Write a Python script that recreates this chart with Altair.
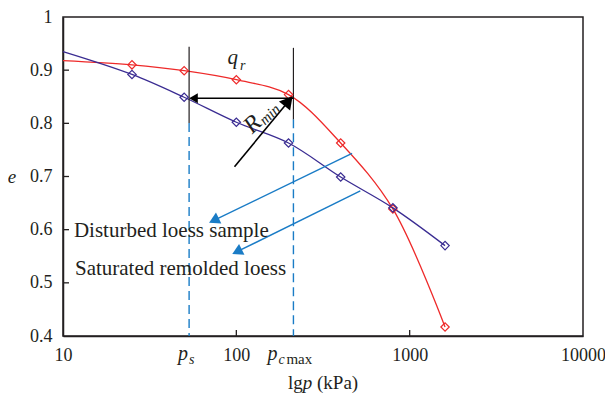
import altair as alt
import pandas as pd

# ---------------- data ----------------
P = [25, 50, 100, 200, 400, 800, 1600]
E_DISTURBED = [0.910, 0.899, 0.882, 0.854, 0.763, 0.639, 0.417]   # red
E_REMOLDED = [0.892, 0.849, 0.802, 0.763, 0.699, 0.641, 0.570]    # blue
CURVE_START_P = 10
E_DISTURBED_START = 0.918
E_REMOLDED_START = 0.935

X_TICKS = [10, 100, 1000, 10000]
Y_TICKS = [0.4, 0.5, 0.6, 0.7, 0.8, 0.9, 1.0]
X_INNER_TICKS = [100, 1000]
Y_INNER_TICKS = [0.5, 0.6, 0.7, 0.8, 0.9]

P_S = 53.4
P_CMAX = 213.5
# black vertical markers (top, bottom) and dashed guides
VLINE_P = [P_S, P_CMAX]
VLINE_TOP = [0.944, 0.942]
VLINE_BOTTOM = [0.8006, 0.8075]
DASH_BOTTOM = [0.4, 0.4]

# horizontal arrow between p_s and p_cmax
HARROW_E = 0.8473
HARROW_HEAD_P = 56.6
# R_min arrow
RARROW_P = [97.6, 200.1]
RARROW_E = [0.7183, 0.8417]
# blue pointer arrows
BARROW1_P = [465.3, 74.2]
BARROW1_E = [0.7434, 0.6174]
BARROW2_P = [519.0, 100.9]
BARROW2_E = [0.6729, 0.5585]

RED = "#ee2a2a"
BLUE = "#3a2c92"
LIGHT = "#1a7cc6"
INK = "#231f20"
FONT = "Liberation Serif"

W, H = 520, 319

xs = alt.Scale(type="log", domain=[10, 10000])
ys = alt.Scale(domain=[0.4, 1.0])

red_line_df = pd.DataFrame({"p": [CURVE_START_P] + P, "e": [E_DISTURBED_START] + E_DISTURBED})
blue_line_df = pd.DataFrame({"p": [CURVE_START_P] + P, "e": [E_REMOLDED_START] + E_REMOLDED})
red_pts = pd.DataFrame({"p": P, "e": E_DISTURBED})
blue_pts = pd.DataFrame({"p": P, "e": E_REMOLDED})

axis_x = alt.Axis(values=X_TICKS, format="d", title=None, ticks=False, grid=False,
                  labelFlush=False, labelFontSize=18, labelFont=FONT, labelColor=INK,
                  labelPadding=10, domainColor=INK, domainWidth=1.5)
axis_y = alt.Axis(values=Y_TICKS, format=".1~f", title=None, ticks=False, grid=False,
                  labelFontSize=18, labelFont=FONT, labelColor=INK,
                  labelPadding=11, domainColor=INK, domainWidth=1.5)

def X(field="p:Q"):
    return alt.X(field, scale=xs, axis=axis_x)

def Y(field="e:Q"):
    return alt.Y(field, scale=ys, axis=axis_y)

red_line = alt.Chart(red_line_df).mark_line(color=RED, strokeWidth=1.3, interpolate="catmull-rom").encode(x=X(), y=Y())
blue_line = alt.Chart(blue_line_df).mark_line(color=BLUE, strokeWidth=1.3, interpolate="catmull-rom").encode(x=X(), y=Y())
red_mk = alt.Chart(red_pts).mark_point(shape="diamond", filled=False, color=RED, size=70, strokeWidth=1.2, opacity=1).encode(x=X(), y=Y())
blue_mk = alt.Chart(blue_pts).mark_point(shape="diamond", filled=False, color=BLUE, size=70, strokeWidth=1.2, opacity=1).encode(x=X(), y=Y())

# inward ticks
xt = alt.Chart(pd.DataFrame({"p": X_INNER_TICKS})).mark_rule(color=INK, strokeWidth=1.3).encode(
    x=X(), y=alt.value(H - 6), y2=alt.value(H))
yt = alt.Chart(pd.DataFrame({"e": Y_INNER_TICKS})).mark_rule(color=INK, strokeWidth=1.3).encode(
    y=Y(), x=alt.value(0), x2=alt.value(6))

vdf = pd.DataFrame({"p": VLINE_P, "e": VLINE_TOP, "e2": VLINE_BOTTOM, "e3": DASH_BOTTOM})
vlines = alt.Chart(vdf).mark_rule(color=INK, strokeWidth=1.2).encode(x=X(), y=Y(), y2="e2:Q")
dashes = alt.Chart(vdf).mark_rule(color=LIGHT, strokeWidth=1.4, strokeDash=[9, 5]).encode(
    x=X(), y=Y("e2:Q"), y2="e3:Q")

# horizontal arrow
harrow = alt.Chart(pd.DataFrame({"p": [P_CMAX], "p2": [HARROW_HEAD_P], "e": [HARROW_E]})).mark_rule(
    color="black", strokeWidth=1.6).encode(x=X(), x2="p2:Q", y=Y())
harrow_head = alt.Chart(pd.DataFrame({"p": [HARROW_HEAD_P], "e": [HARROW_E]})).mark_point(
    shape="triangle-left", filled=True, color="black", size=100, opacity=1).encode(x=X(), y=Y())

def arrow(ps, es, color, width, head_size, angle):
    df = pd.DataFrame({"p": ps, "e": es, "o": [0, 1]})
    shaft = alt.Chart(df).mark_line(color=color, strokeWidth=width).encode(x=X(), y=Y(), order="o:Q")
    head = alt.Chart(df.iloc[[1]]).mark_point(shape="triangle-up", filled=True, color=color,
                                              size=head_size, angle=angle, opacity=1).encode(x=X(), y=Y())
    return shaft + head

rarrow = arrow(RARROW_P, RARROW_E, "black", 1.6, 210, 39.5)
barrow1 = arrow(BARROW1_P, BARROW1_E, LIGHT, 1.4, 150, 244.2)
barrow2 = arrow(BARROW2_P, BARROW2_E, LIGHT, 1.4, 150, 243.7)

def txt(text, p, e, size, italic=False, align="left", baseline="alphabetic", angle=0):
    kw = dict(font=FONT, fontSize=size, align=align, baseline=baseline, color=INK, text=text)
    if italic:
        kw["fontStyle"] = "italic"
    if angle:
        kw["angle"] = angle
    return alt.Chart(pd.DataFrame({"p": [p], "e": [e]})).mark_text(**kw).encode(x=X(), y=Y())

def ptxt(text, x, y, size, italic=False, align="left", baseline="alphabetic"):
    kw = dict(font=FONT, fontSize=size, align=align, baseline=baseline, color=INK, text=text)
    if italic:
        kw["fontStyle"] = "italic"
    return alt.Chart(pd.DataFrame({"a": [0]})).mark_text(**kw).encode(x=alt.value(x), y=alt.value(y))

labels = [
    txt("Disturbed loess sample", 11.56, 0.5869, 21),
    txt("Saturated remolded loess", 11.72, 0.514, 21),
    txt("q", 95.5, 0.912, 21, italic=True, align="center"),
    txt("r", 108.9, 0.901, 14, italic=True, align="center"),
    txt("R", 124.3, 0.7981, 24, italic=True, align="center", baseline="middle", angle=316),
    txt("min", 155.6, 0.8168, 15, italic=True, align="center", baseline="middle", angle=316),
]

def sub_lab(text, p, dx, y, size, italic):
    kw = dict(font=FONT, fontSize=size, align="left", baseline="alphabetic", color=INK, text=text, dx=dx)
    if italic:
        kw["fontStyle"] = "italic"
    return alt.Chart(pd.DataFrame({"p": [p]})).mark_text(**kw).encode(x=X(), y=alt.value(y))

axis_labels = [
    sub_lab("p", P_S, -11, H + 24, 20, True),
    sub_lab("s", P_S, 0, H + 28, 14, True),
    sub_lab("p", P_CMAX, -26, H + 24, 20, True),
    sub_lab("c", P_CMAX, -15, H + 28, 14, True),
    sub_lab("max", P_CMAX, -7, H + 28, 15, False),
]

titles = [
    ptxt("lg", 225, H + 53, 19),
    ptxt("p", 239.8, H + 53, 19, italic=True),
    ptxt("(kPa)", 254, H + 53, 19),
    ptxt("e", -51, H / 2, 19, italic=True, align="center", baseline="middle"),
]

chart = alt.layer(
    red_line, blue_line, dashes, vlines, red_mk, blue_mk, xt, yt,
    harrow, harrow_head, rarrow, barrow1, barrow2,
    *labels, *axis_labels, *titles
).properties(
    width=W, height=H,
    padding={"left": 55, "top": 9, "right": 22, "bottom": 62},
    autosize=alt.AutoSizeParams(type="none"),
    background="white",
).configure_view(stroke=INK, strokeWidth=1.5)

chart.save("out.html", embed_options={"renderer": "svg", "actions": False})
